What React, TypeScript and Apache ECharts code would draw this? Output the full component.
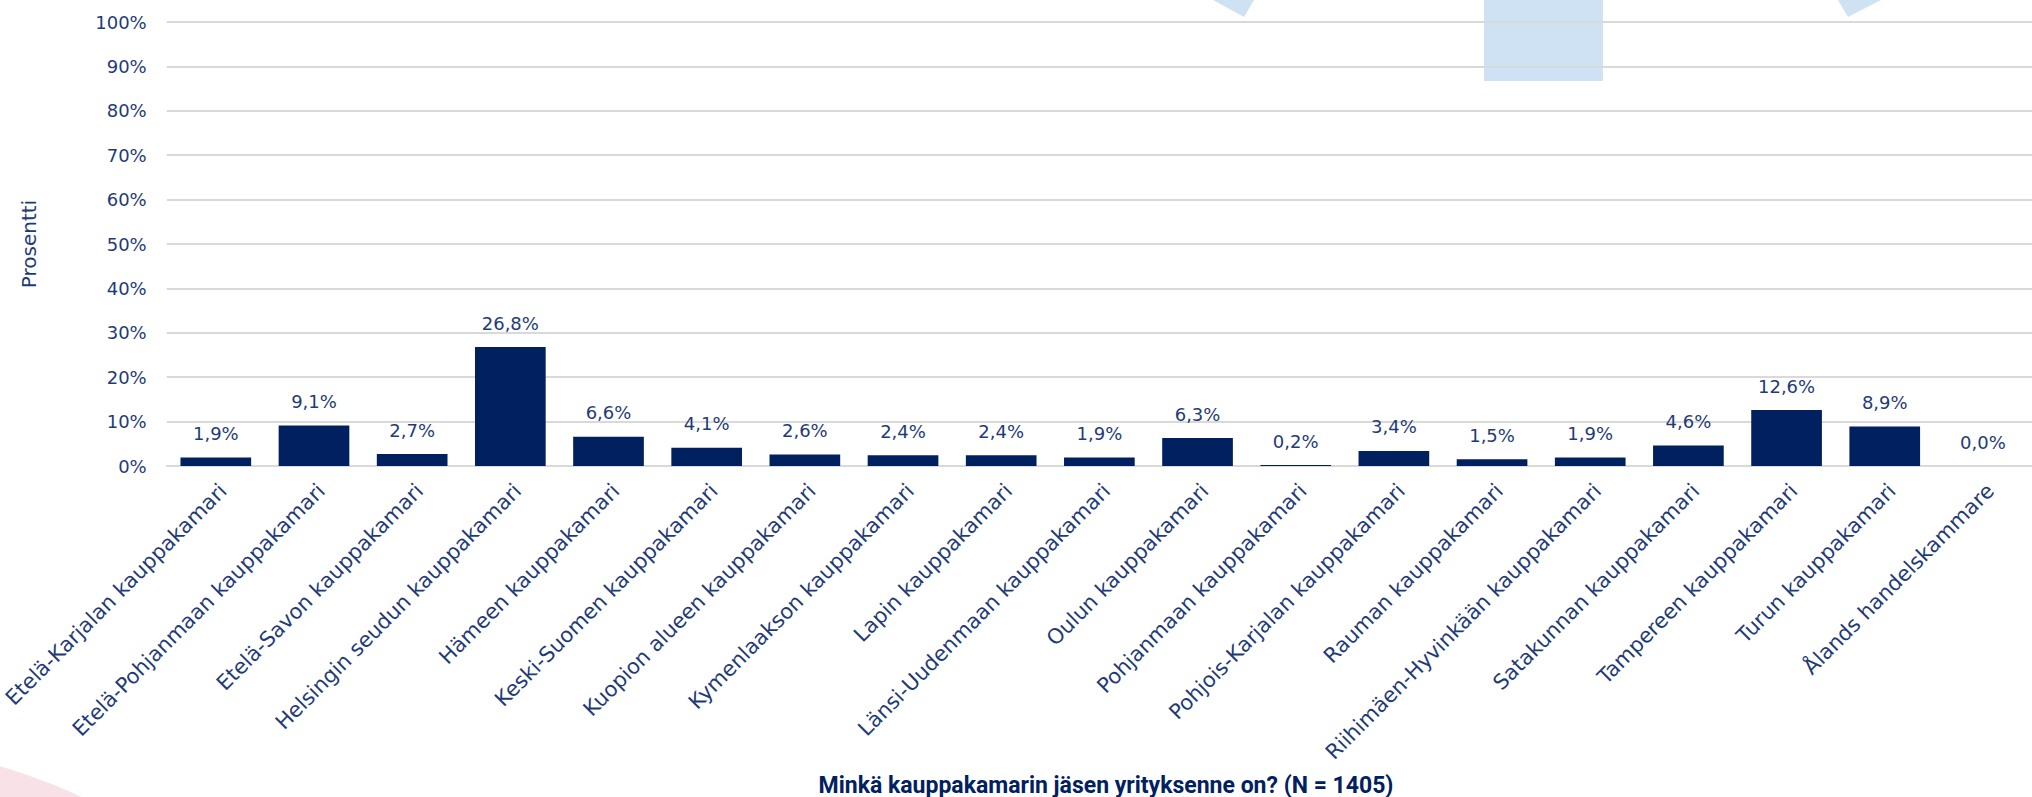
import React, { useEffect, useRef } from "react";
import * as echarts from "echarts";

const categories: string[] = [
  "Etelä-Karjalan kauppakamari",
  "Etelä-Pohjanmaan kauppakamari",
  "Etelä-Savon kauppakamari",
  "Helsingin seudun kauppakamari",
  "Hämeen kauppakamari",
  "Keski-Suomen kauppakamari",
  "Kuopion alueen kauppakamari",
  "Kymenlaakson kauppakamari",
  "Lapin kauppakamari",
  "Länsi-Uudenmaan kauppakamari",
  "Oulun kauppakamari",
  "Pohjanmaan kauppakamari",
  "Pohjois-Karjalan kauppakamari",
  "Rauman kauppakamari",
  "Riihimäen-Hyvinkään kauppakamari",
  "Satakunnan kauppakamari",
  "Tampereen kauppakamari",
  "Turun kauppakamari",
  "Ålands handelskammare",
];

const values: number[] = [
  1.9, 9.1, 2.7, 26.8, 6.6, 4.1, 2.6, 2.4, 2.4, 1.9, 6.3, 0.2, 3.4, 1.5, 1.9, 4.6, 12.6, 8.9, 0.0,
];

const yAxisName = "Prosentti";
const xTitle = "Minkä kauppakamarin jäsen yrityksenne on? (N = 1405)";

const TEXT = "#1F3B77";
const BAR = "#002060";
const FONT = "'DejaVu Sans', sans-serif";

export default function App() {
  const ref = useRef<HTMLDivElement>(null);
  useEffect(() => {
    if (!ref.current) return;
    const chart = echarts.init(ref.current, undefined, { renderer: "svg" });
    chart.setOption({
      animation: false,
      backgroundColor: "#ffffff",
      graphic: {
        elements: [
          {
            type: "circle",
            z: -10,
            shape: { cx: -150, cy: 1285, r: 540 },
            style: { fill: "#F9E2E7" },
          },
          {
            type: "rect",
            z: -10,
            shape: { x: 1484, y: 0, width: 119, height: 81 },
            style: { fill: "#CFE2F3" },
          },
          {
            type: "polygon",
            z: -10,
            shape: { points: [[1213, 0], [1254, 0], [1244, 17]] },
            style: { fill: "#CFE2F3" },
          },
          {
            type: "polygon",
            z: -10,
            shape: { points: [[1838, 0], [1881, 0], [1848, 17]] },
            style: { fill: "#CFE2F3" },
          },
          {
            type: "text",
            x: 1106,
            y: 785,
            style: {
              text: xTitle,
              fill: BAR,
              font: "bold 23px Roboto, sans-serif",
              textAlign: "center",
              textVerticalAlign: "middle",
            },
          },
        ],
      },
      grid: { left: 165, right: -18, top: 22, bottom: 331, containLabel: false },
      xAxis: {
        type: "category",
        data: categories,
        axisLine: { lineStyle: { color: "#D9D9D9", width: 2 } },
        axisTick: { show: false },
        axisLabel: {
          rotate: 45,
          interval: 0,
          margin: 14,
          verticalAlign: "top",
          color: TEXT,
          fontFamily: FONT,
          fontSize: 21,
        },
      },
      yAxis: {
        type: "value",
        min: 0,
        max: 100,
        interval: 10,
        name: yAxisName,
        nameLocation: "middle",
        nameGap: 128,
        nameRotate: 90,
        nameTextStyle: { color: TEXT, fontFamily: FONT, fontSize: 20 },
        axisLine: { show: false },
        axisTick: { show: false },
        axisLabel: {
          formatter: "{value}%",
          margin: 20,
          color: TEXT,
          fontFamily: FONT,
          fontSize: 18,
        },
        splitLine: { lineStyle: { color: "#D9D9D9", width: 2 } },
      },
      series: [
        {
          type: "bar",
          data: values,
          barCategoryGap: "28%",
          itemStyle: { color: BAR },
          label: {
            show: true,
            position: "top",
            distance: 15,
            color: TEXT,
            fontFamily: FONT,
            fontSize: 18,
            formatter: (p: any) => p.value.toFixed(1).replace(".", ",") + "%",
          },
        },
      ],
    });
    return () => chart.dispose();
  }, []);
  return (
    <div
      ref={ref}
      style={{ position: "absolute", left: 0, top: 0, width: 2032, height: 797 }}
    />
  );
}
